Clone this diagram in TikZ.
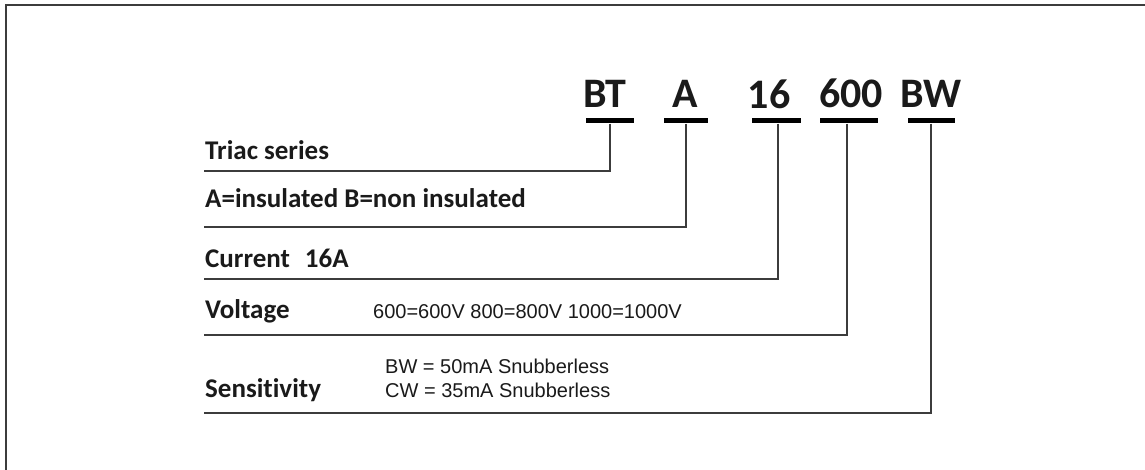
\documentclass[tikz,border=0pt]{standalone}
\usepackage{fontspec}
\setmainfont{Carlito}[Ligatures=NoCommon]
\newfontfamily\arialfont{Liberation Sans}
\definecolor{ink}{HTML}{1A1A1A}
\definecolor{rule}{HTML}{3C3C3C}
\begin{document}
\begin{tikzpicture}[x=1pt,y=-1pt,
  code/.style={anchor=base,inner sep=0pt,font=\fontsize{42}{42}\selectfont\bfseries,text=ink},
  bar/.style={fill=black,inner sep=0pt,minimum height=5pt,draw=none},
  lbl/.style={anchor=base west,inner sep=0pt,font=\fontsize{27}{27}\selectfont\bfseries,text=ink},
  small/.style={anchor=base west,inner sep=0pt,font=\arialfont\fontsize{20}{24}\selectfont,text=ink},
  conn/.style={draw=rule,line width=2.6pt}
]
\useasboundingbox (0,0) rectangle (1145,470);
\draw[rule,line width=2pt] (6,470) -- (6,5) -- (1145,5);

% code letters
\node[code] (cBT) at (605,108) {BT};
\node[code] (cA) at (685,108) {A};
\node[code] (c16) at (769,109) {16};
\node[code] (c600) at (851,108) {600};
\node[code] (cBW) at (931,108) {BW};

% bars
\node[bar,minimum width=48pt] (bBT) at (610,121) {};
\node[bar,minimum width=44pt] (bA) at (686,121) {};
\node[bar,minimum width=49pt] (b16) at (776,121) {};
\node[bar,minimum width=58pt] (b600) at (849,121) {};
\node[bar,minimum width=47pt] (bBW) at (931,121) {};

% labels
\node[lbl] (lT) at (205,160) {Triac series};
\node[lbl] (lA) at (205,208) {A=insulated B=non insulated};
\node[lbl] (lC) at (205,267) {Current\hspace{0.55em}16A};
\node[lbl] (lV) at (205,318) {Voltage};
\node[small] (vV) at (373,318) {600=600V 800=800V 1000=1000V};
\node[lbl] (lS) at (205,397) {Sensitivity};
\node[small] (vS1) at (385,373) {BW = 50mA Snubberless};
\node[small] (vS2) at (385,397) {CW = 35mA Snubberless};

% line ends
\coordinate (eT) at (204,171);
\coordinate (eA) at (204,227);
\coordinate (eC) at (204,279);
\coordinate (eV) at (204,335);
\coordinate (eS) at (204,413);

% connectors
\draw[conn] (bBT.south) |- (eT);
\draw[conn] (bA.south) |- (eA);
\draw[conn] ([xshift=2pt]b16.south) |- (eC);
\draw[conn] ([xshift=-2pt]b600.south) |- (eV);
\draw[conn] (bBW.south) |- (eS);
\end{tikzpicture}
\end{document}
